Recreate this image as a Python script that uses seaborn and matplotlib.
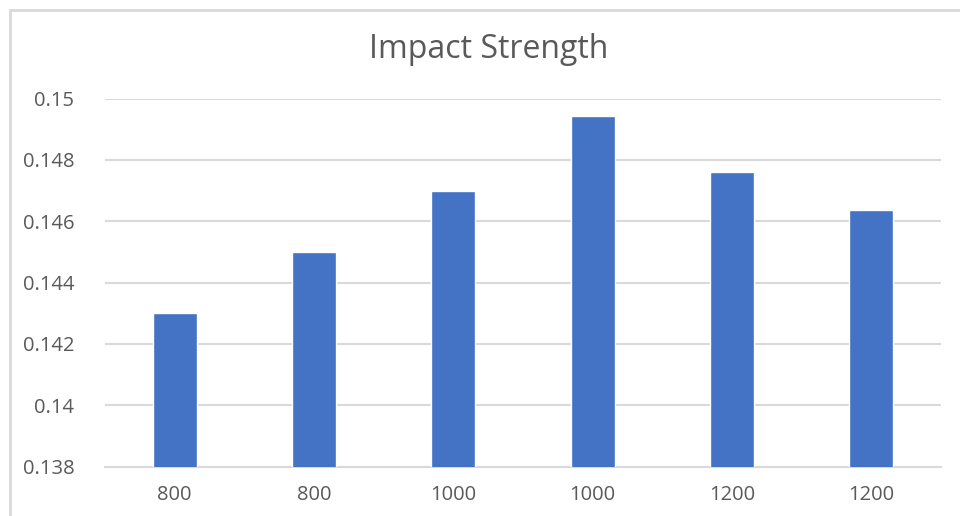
import numpy as np
import pandas as pd
import matplotlib
matplotlib.use('Agg')
import matplotlib.pyplot as plt
from matplotlib.lines import Line2D
import seaborn as sns

# speeds (duplicate labels, one bar per sample)
speed_labels = ['800', '800', '1000', '1000', '1200', '1200']
impact_strength = [0.1430, 0.1450, 0.1470, 0.14943, 0.14761, 0.14638]
y_ticks = [0.138, 0.14, 0.142, 0.144, 0.146, 0.148, 0.15]
y_tick_labels = ['0.138', '0.14', '0.142', '0.144', '0.146', '0.148', '0.15']

sns.set_style('white')
plt.rcParams['font.family'] = ['Open Sans', 'DejaVu Sans']

df = pd.DataFrame({
    'sample': [str(i) for i in range(len(speed_labels))],
    'impact': impact_strength,
})

fig = plt.figure(figsize=(9.6, 5.16), dpi=100)
ax = fig.add_axes([105 / 960, 1 - 466.7 / 516, 836 / 960, (466.7 - 98.5) / 516])

sns.barplot(data=df, x='sample', y='impact', color='#4472C4', saturation=1,
            width=0.315, ax=ax, zorder=3)

ax.set_ylim(0.138, 0.15)
ax.set_xlim(-0.5, len(speed_labels) - 0.5)
ax.set_yticks(y_ticks)
ax.set_yticklabels(y_tick_labels)
ax.set_xticks(range(len(speed_labels)))
ax.set_xticklabels(speed_labels)
ax.set_xlabel('')
ax.set_ylabel('')

ax.yaxis.grid(True, color='#d9d9d9', linewidth=1.5, zorder=0)
ax.set_axisbelow(True)
for side in ['top', 'right', 'left']:
    ax.spines[side].set_visible(False)
ax.spines['bottom'].set_color('#d9d9d9')
ax.spines['bottom'].set_linewidth(1.5)
ax.tick_params(axis='both', length=0, labelsize=14.5, labelcolor='#595959')
ax.tick_params(axis='y', pad=22)
ax.tick_params(axis='x', pad=13)

fig.text(489 / 960, 1 - 50 / 516, 'Impact Strength', ha='center', va='center',
         fontsize=23, color='#595959')

# chart frame (left and top edges visible)
fig.add_artist(Line2D([10 / 960, 10 / 960], [0, 1 - 10 / 516], color='#d9d9d9',
                      linewidth=2, transform=fig.transFigure))
fig.add_artist(Line2D([10 / 960, 1], [1 - 10 / 516, 1 - 10 / 516], color='#d9d9d9',
                      linewidth=2, transform=fig.transFigure))

fig.savefig('out.png', dpi=100)
